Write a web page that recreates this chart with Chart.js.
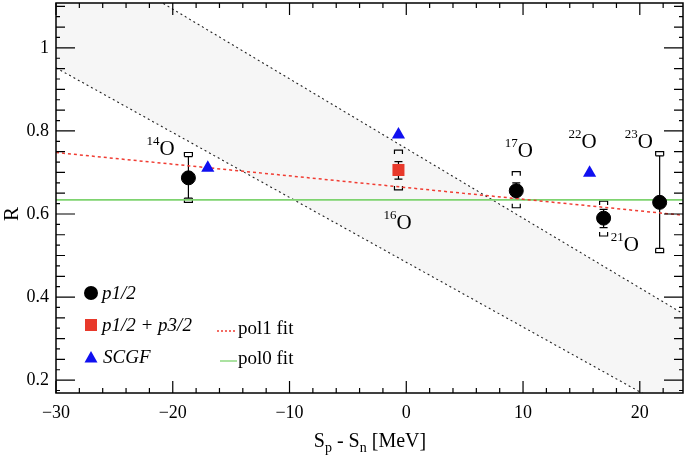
<!DOCTYPE html>
<html>
<head>
<meta charset="utf-8">
<script src="https://cdn.jsdelivr.net/npm/chart.js@4.4.1/dist/chart.umd.min.js"></script>
<style>
  html, body { margin: 0; padding: 0; background: #fff; }
</style>
</head>
<body>
<canvas id="chart" width="685" height="461"></canvas>
<script>
// Datos
const xTicks = [-30, -20, -10, 0, 10, 20];
const yTicks = [0.2, 0.4, 0.6, 0.8, 1];

// p1/2 (círculos negros): 14O, 17O, 21O, 23O
const p12X = [-18.66, 9.42, 16.9, 21.7];
const p12Y = [0.687, 0.656, 0.59, 0.628];
const p12StatLo = [0.638, 0.635, 0.567, 0.517];
const p12StatHi = [0.738, 0.675, 0.611, 0.740];
const p12SysLo = [0.628, 0.615, 0.547, 0.507];
const p12SysHi = [0.748, 0.702, 0.631, 0.750];

// p1/2 + p3/2 (cuadrado rojo): 16O
const p13X = [-0.67];
const p13Y = [0.706];
const p13StatLo = [0.684];
const p13StatHi = [0.726];
const p13SysLo = [0.658];
const p13SysHi = [0.754];

// SCGF (triángulos azules)
const scgfX = [-17.0, -0.67, 15.7];
const scgfY = [0.711, 0.791, 0.699];

// Ajustes
const fitX = [-30, 23.7];
const pol1Y = [0.748, 0.597];
const pol0Y = [0.634, 0.634];

// Banda
const bandUpperY = [1.261, 0.360];
const bandLowerY = [0.952, 0.114];

// Etiquetas de isótopos
const isoMass = ['14', '16', '17', '21', '22', '23'];
const isoX = [-20.49, -0.18, 10.19, 19.27, 15.65, 20.47];
const isoY = [0.755, 0.576, 0.750, 0.525, 0.772, 0.772];

const pts = (xs, ys) => xs.map((x, i) => ({ x: x, y: ys[i] }));
const SERIF = '"Liberation Serif", "DejaVu Serif", serif';

// Barras de error, marco, ticks, textos
const decor = {
    id: 'decor',
    beforeDatasetsDraw(chart) {
        const { ctx, scales: { x, y } } = chart;
        ctx.save();
        ctx.strokeStyle = '#000';
        ctx.lineWidth = 1.2;
        const drawErr = (xs, lo, hi, slo, shi) => {
            xs.forEach((v, i) => {
                const px = x.getPixelForValue(v);
                const a = y.getPixelForValue(hi[i]);
                const b = y.getPixelForValue(lo[i]);
                ctx.beginPath();
                ctx.moveTo(px, a); ctx.lineTo(px, b);
                ctx.moveTo(px - 4, a); ctx.lineTo(px + 4, a);
                ctx.moveTo(px - 4, b); ctx.lineTo(px + 4, b);
                ctx.stroke();
                // corchetes sistemáticos
                const s1 = y.getPixelForValue(shi[i]);
                const s2 = y.getPixelForValue(slo[i]);
                ctx.beginPath();
                ctx.moveTo(px - 4, s1 + 4); ctx.lineTo(px - 4, s1); ctx.lineTo(px + 4, s1); ctx.lineTo(px + 4, s1 + 4);
                ctx.moveTo(px - 4, s2 - 4); ctx.lineTo(px - 4, s2); ctx.lineTo(px + 4, s2); ctx.lineTo(px + 4, s2 - 4);
                ctx.stroke();
            });
        };
        drawErr(p12X, p12StatLo, p12StatHi, p12SysLo, p12SysHi);
        drawErr(p13X, p13StatLo, p13StatHi, p13SysLo, p13SysHi);
        ctx.restore();
    },
    afterDraw(chart) {
        const { ctx, chartArea: ca, scales: { x, y } } = chart;
        ctx.save();
        ctx.strokeStyle = '#000';
        ctx.lineWidth = 1.5;
        ctx.strokeRect(ca.left, ca.top, ca.right - ca.left, ca.bottom - ca.top);

        // ticks hacia dentro en los cuatro lados
        ctx.lineWidth = 1.2;
        ctx.beginPath();
        for (let v = -30; v <= x.max; v += 2) {
            const px = x.getPixelForValue(v);
            const len = (v % 10 === 0) ? 12 : 5;
            ctx.moveTo(px, ca.bottom); ctx.lineTo(px, ca.bottom - len);
            ctx.moveTo(px, ca.top); ctx.lineTo(px, ca.top + len);
        }
        for (let i = Math.ceil(y.min / 0.025); i * 0.025 <= y.max; i++) {
            const py = y.getPixelForValue(i * 0.025);
            const len = (i % 8 === 0) ? 19 : (i % 2 === 0 ? 9 : 4);
            ctx.moveTo(ca.left, py); ctx.lineTo(ca.left + len, py);
            ctx.moveTo(ca.right, py); ctx.lineTo(ca.right - len, py);
        }
        ctx.stroke();

        // etiquetas de los ejes
        ctx.fillStyle = '#000';
        ctx.textBaseline = 'middle';
        ctx.font = '18px ' + SERIF;
        ctx.textAlign = 'center';
        xTicks.forEach(v => {
            const s = v < 0 ? '\u2212' + Math.abs(v) : String(v);
            ctx.fillText(s, x.getPixelForValue(v), ca.bottom + 20);
        });
        ctx.textAlign = 'right';
        yTicks.forEach(v => {
            ctx.fillText(String(v), ca.left - 7, y.getPixelForValue(v));
        });

        // etiquetas de isótopos
        isoMass.forEach((m, i) => {
            const px = x.getPixelForValue(isoX[i]);
            const py = y.getPixelForValue(isoY[i]);
            ctx.font = '21px ' + SERIF;
            ctx.textAlign = 'center';
            const w = ctx.measureText('O').width;
            ctx.fillText('O', px, py);
            ctx.font = '13px ' + SERIF;
            ctx.textAlign = 'right';
            ctx.fillText(m, px - w / 2, py - 8);
        });

        // leyenda
        ctx.textAlign = 'left';
        ctx.font = 'italic 19px ' + SERIF;
        ctx.fillStyle = '#000';
        ctx.beginPath(); ctx.arc(91, 293, 7, 0, Math.PI * 2); ctx.fill();
        ctx.fillText('p1/2', 102, 294);
        ctx.fillStyle = '#e8392b';
        ctx.fillRect(85, 319, 12, 12);
        ctx.fillStyle = '#000';
        ctx.fillText('p1/2 + p3/2', 102, 326);
        ctx.fillStyle = '#1010f0';
        ctx.beginPath(); ctx.moveTo(91, 351); ctx.lineTo(97.5, 362.5); ctx.lineTo(84.5, 362.5); ctx.closePath(); ctx.fill();
        ctx.fillStyle = '#000';
        ctx.fillText('SCGF', 103, 358);

        ctx.font = '19px ' + SERIF;
        ctx.lineWidth = 1.3;
        ctx.strokeStyle = '#f03c32';
        ctx.setLineDash([2, 2]);
        ctx.beginPath(); ctx.moveTo(217, 331); ctx.lineTo(237, 331); ctx.stroke();
        ctx.setLineDash([]);
        ctx.strokeStyle = '#7ed36f';
        ctx.beginPath(); ctx.moveTo(220, 361); ctx.lineTo(237, 361); ctx.stroke();
        ctx.fillText('pol1 fit', 238, 329);
        ctx.fillText('pol0 fit', 238, 359);

        // títulos de ejes
        const parts = [['S', 0], ['p', 1], [' - S', 0], ['n', 1], [' [MeV]', 0]];
        let total = 0;
        parts.forEach(p => { ctx.font = (p[1] ? '14px ' : '20px ') + SERIF; total += ctx.measureText(p[0]).width; });
        let cx = 370 - total / 2;
        ctx.textAlign = 'left';
        parts.forEach(p => {
            ctx.font = (p[1] ? '14px ' : '20px ') + SERIF;
            ctx.fillText(p[0], cx, p[1] ? 448 : 442);
            cx += ctx.measureText(p[0]).width;
        });
        ctx.translate(12, 214);
        ctx.rotate(-Math.PI / 2);
        ctx.textAlign = 'center';
        ctx.font = '21px ' + SERIF;
        ctx.fillText('R', 0, 0);
        ctx.restore();
    }
};

const ctx = document.getElementById('chart').getContext('2d');
new Chart(ctx, {
    type: 'scatter',
    data: {
        datasets: [
            {
                label: 'p1/2', data: pts(p12X, p12Y),
                pointStyle: 'circle', pointRadius: 7, pointHoverRadius: 7,
                backgroundColor: '#000', borderColor: '#000', order: 1
            },
            {
                label: 'p1/2 + p3/2', data: pts(p13X, p13Y),
                pointStyle: 'rect', pointRadius: 8.5, pointHoverRadius: 8.5,
                backgroundColor: '#e8392b', borderColor: '#e8392b', borderWidth: 0, order: 1
            },
            {
                label: 'SCGF', data: pts(scgfX, scgfY),
                pointStyle: 'triangle', pointRadius: 7.6, pointHoverRadius: 7.6,
                backgroundColor: '#1010f0', borderColor: '#1010f0', borderWidth: 0, order: 1
            },
            {
                label: 'pol1 fit', data: pts(fitX, pol1Y), showLine: true,
                borderColor: '#f03c32', borderWidth: 1.5, borderDash: [3, 3],
                pointRadius: 0, order: 2
            },
            {
                label: 'pol0 fit', data: pts(fitX, pol0Y), showLine: true,
                borderColor: '#7ed36f', borderWidth: 1.8,
                pointRadius: 0, order: 2
            },
            {
                label: 'band upper', data: pts(fitX, bandUpperY), showLine: true,
                borderColor: '#222', borderWidth: 1.1, borderDash: [2, 3],
                pointRadius: 0, order: 3
            },
            {
                label: 'band lower', data: pts(fitX, bandLowerY), showLine: true,
                borderColor: '#222', borderWidth: 1.1, borderDash: [2, 3],
                backgroundColor: 'rgba(0,0,0,0.035)', fill: 5,
                pointRadius: 0, order: 4
            }
        ]
    },
    options: {
        responsive: false,
        animation: false,
        devicePixelRatio: 1,
        layout: { autoPadding: false, padding: { top: 3, right: 2, left: 0, bottom: 0 } },
        plugins: {
            legend: { display: false },
            tooltip: { enabled: false },
            filler: { propagate: false }
        },
        scales: {
            x: {
                type: 'linear', min: -30, max: 23.7,
                grid: { display: false },
                border: { display: false },
                ticks: { display: false },
                afterFit: s => { s.height = 68; }
            },
            y: {
                type: 'linear', min: 0.169, max: 1.108,
                grid: { display: false },
                border: { display: false },
                ticks: { display: false },
                afterFit: s => { s.width = 56; }
            }
        }
    },
    plugins: [decor]
});
</script>
</body>
</html>
